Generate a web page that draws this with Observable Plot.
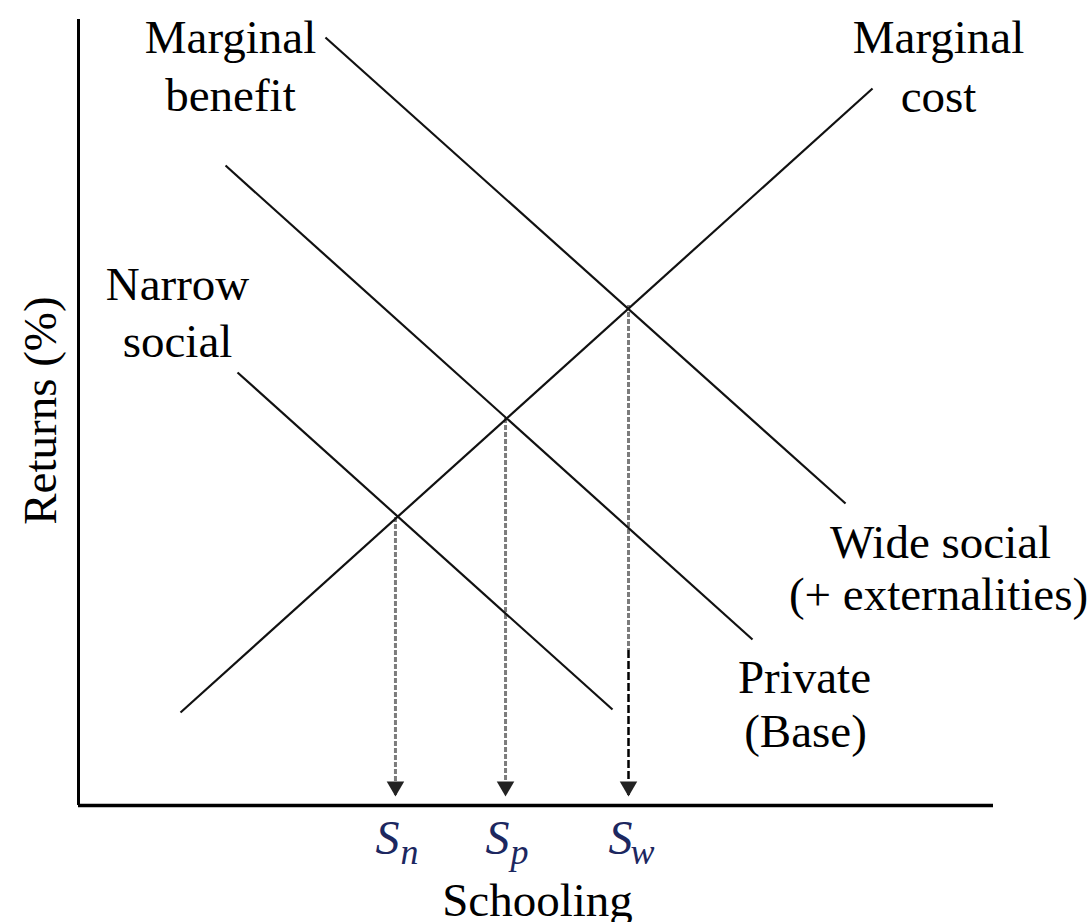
<!DOCTYPE html>
<html><head><meta charset="utf-8">
<script src="https://cdn.jsdelivr.net/npm/d3@7"></script>
<script src="https://cdn.jsdelivr.net/npm/@observablehq/plot@0.6"></script>
<style>body{margin:0;background:#fff}</style>
</head><body><div id="chart"></div>
<script>
// Curves (schooling units 0..10 on x, returns units 0..10 on y)
const curveNames = ["Marginal cost", "Wide social", "Private", "Narrow social"];
const curveX1 = [1.115, 2.699, 1.607, 1.738];
const curveY1 = [1.183, 9.771, 8.142, 5.509];
const curveX2 = [8.678, 8.383, 7.366, 5.836];
const curveY2 = [9.122, 3.842, 2.112, 1.221];

// Equilibrium schooling levels
const levelSubs = ["n", "p", "w"];
const levelX = [3.464, 4.667, 6.011];
const levelY = [3.664, 4.924, 6.361];
const arrowEndY = 0.127;
const arrowHeadY = 0.242;
const wideBlackFromY = 1.972;
const levelLabelY = -0.611;

// Curve labels (one entry per text line)
const labelTexts = ["Marginal", "benefit", "Marginal", "cost", "Narrow", "social",
                    "Wide social", "(+ externalities)", "Private", "(Base)"];
const labelX = [1.661, 1.661, 9.399, 9.399, 1.082, 1.082, 9.421, 9.399, 7.934, 7.945];
const labelY = [9.580, 8.842, 9.580, 8.817, 6.425, 5.712, 3.155, 2.481, 1.425, 0.738];

const axisTitleY = "Returns (%)";
const axisTitleX = "Schooling";

const curves = curveNames.map((name, i) => ({name, x1: curveX1[i], y1: curveY1[i], x2: curveX2[i], y2: curveY2[i]}));
const levels = levelSubs.map((s, i) => ({s, x: levelX[i], y: levelY[i]}));
const grayDrops = levels.map(d => ({x: d.x, y1: d.y, y2: d.s === "w" ? wideBlackFromY : arrowEndY}));
const blackDrops = levels.filter(d => d.s === "w").map(d => ({x: d.x, y1: wideBlackFromY, y2: arrowEndY}));
const labels = labelTexts.map((t, i) => ({t, x: labelX[i], y: labelY[i]}));

const serif = "'Liberation Serif', 'Times New Roman', serif";

const chart = Plot.plot({
  width: 1088,
  height: 922,
  marginLeft: 78,
  marginRight: 95,
  marginTop: 19,
  marginBottom: 117,
  x: {domain: [0, 10], axis: null},
  y: {domain: [0, 10], axis: null},
  style: {fontFamily: serif, background: "#fff"},
  marks: [
    Plot.ruleX([0], {y1: 0, y2: 10, stroke: "#000", strokeWidth: 3}),
    Plot.ruleY([0], {x1: 0, x2: 10, stroke: "#000", strokeWidth: 3.5}),
    Plot.ruleX(grayDrops, {x: "x", y1: "y1", y2: "y2", stroke: "#7c7c7c", strokeWidth: 3, strokeDasharray: "5,2"}),
    Plot.ruleX(blackDrops, {x: "x", y1: "y1", y2: "y2", stroke: "#000", strokeWidth: 2.5, strokeDasharray: "8,3"}),
    Plot.dot(levels, {x: "x", y: arrowHeadY, symbol: "triangle", rotate: 180, r: 6.5, fill: "#222", stroke: "none"}),
    Plot.link(curves, {x1: "x1", y1: "y1", x2: "x2", y2: "y2", stroke: "#111", strokeWidth: 2.2}),
    Plot.text(labels, {x: "x", y: "y", text: "t", fontSize: 47, lineAnchor: "bottom", textAnchor: "middle", fill: "#000"}),
    Plot.text(levels, {x: "x", y: levelLabelY, text: () => "S", dx: -8, fontSize: 48, fontStyle: "italic", lineAnchor: "bottom", fill: "#1c2760"}),
    Plot.text(levels, {x: "x", y: levelLabelY, text: "s", dx: 14, dy: 10, fontSize: 36, fontStyle: "italic", lineAnchor: "bottom", fill: "#1c2760"}),
    Plot.text([axisTitleX], {x: 5.016, y: -1.412, text: d => d, fontSize: 47, lineAnchor: "bottom", fill: "#000"}),
    Plot.text([axisTitleY], {x: -0.415, y: 5.025, text: d => d, fontSize: 47, rotate: -90, fill: "#000"})
  ]
});
document.getElementById("chart").appendChild(chart);
</script>
</body></html>
